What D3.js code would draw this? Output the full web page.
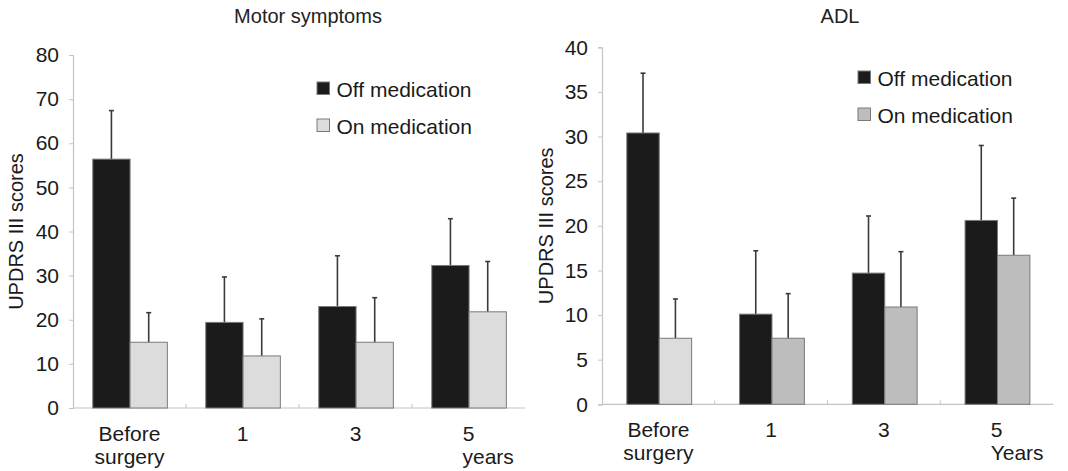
<!DOCTYPE html>
<html>
<head>
<meta charset="utf-8">
<script src="https://cdn.jsdelivr.net/npm/d3@7"></script>
<style>
  html, body { margin: 0; padding: 0; background: #fff; }
  svg { display: block; font-family: "Liberation Sans", Arial, sans-serif; }
</style>
</head>
<body>
<svg id="chart" width="1068" height="471"></svg>
<script>
// Time points after surgery
const categories = ["Before surgery", "1", "3", "5"];
const series = ["Off medication", "On medication"];

// Motor symptoms (UPDRS III), means and upper error bars
const motorOff = [56.4, 19.4, 23.0, 32.3];
const motorOffErr = [67.4, 29.7, 34.5, 42.9];
const motorOn = [14.9, 11.8, 14.9, 21.8];
const motorOnErr = [21.6, 20.2, 25.0, 33.2];
const motorTicks = [0, 10, 20, 30, 40, 50, 60, 70, 80];

// Activities of daily living
const adlOff = [30.4, 10.1, 14.7, 20.6];
const adlOffErr = [37.1, 17.2, 21.1, 29.0];
const adlOn = [7.4, 7.4, 10.9, 16.7];
const adlOnErr = [11.8, 12.4, 17.1, 23.1];
const adlTicks = [0, 5, 10, 15, 20, 25, 30, 35, 40];

const svg = d3.select("#chart");
const INK = "#1a1a1a";

function panel(opt) {
  const g = svg.append("g");
  const x0 = d3.scaleBand().domain(categories).range([opt.x0, opt.x1]).padding(0);
  const bw = x0.bandwidth();
  const x1 = d3.scaleBand().domain(series).range([bw * opt.inner[0], bw * opt.inner[1]]).padding(0);
  const y = d3.scaleLinear().domain([0, opt.max]).range([opt.yBottom, opt.yTop]);

  // panel title
  g.append("text").attr("x", opt.titleX).attr("y", 23)
    .attr("text-anchor", "middle").attr("font-size", 20).attr("fill", "#222")
    .text(opt.title);

  // y axis
  const yAxis = g.append("g").attr("transform", `translate(${opt.x0},0)`)
    .call(d3.axisLeft(y).tickValues(opt.ticks).tickSize(4).tickPadding(10));
  yAxis.select(".domain").attr("stroke", "#c4c4c4").attr("stroke-width", 1.2);
  yAxis.selectAll(".tick line").attr("stroke", "#c4c4c4");
  yAxis.selectAll(".tick text").attr("font-size", 21).attr("fill", INK)
    .attr("font-family", "Liberation Sans, Arial, sans-serif");

  // x axis baseline with short separators between groups
  g.append("line").attr("x1", opt.x0).attr("x2", opt.x1)
    .attr("y1", opt.yBottom).attr("y2", opt.yBottom)
    .attr("stroke", "#c4c4c4").attr("stroke-width", 1.2);
  categories.slice(1).forEach(c => {
    g.append("line").attr("x1", x0(c)).attr("x2", x0(c))
      .attr("y1", opt.yBottom).attr("y2", opt.yBottom - 4)
      .attr("stroke", "#c4c4c4");
  });

  // y axis title
  g.append("text")
    .attr("transform", `translate(${opt.labelX},${(opt.yTop + opt.yBottom) / 2}) rotate(-90)`)
    .attr("text-anchor", "middle").attr("font-size", 20).attr("fill", INK)
    .attr("dy", "0.35em")
    .text("UPDRS III scores");

  const rows = categories.map((c, i) => ({
    cat: c,
    vals: [
      { s: series[0], v: opt.off[i], e: opt.offErr[i], fill: "#1b1b1b" },
      { s: series[1], v: opt.on[i], e: opt.onErr[i], fill: opt.onFill[i] }
    ]
  }));

  const grp = g.selectAll(".grp").data(rows).join("g")
    .attr("transform", d => `translate(${x0(d.cat)},0)`);

  // error bars (upper whisker only)
  grp.selectAll(".err").data(d => d.vals).join("g").each(function (d) {
    const cx = x1(d.s) + x1.bandwidth() / 2;
    const s = d3.select(this);
    s.append("line").attr("x1", cx).attr("x2", cx)
      .attr("y1", y(d.v)).attr("y2", y(d.e))
      .attr("stroke", "#3a3a3a").attr("stroke-width", 1.6);
    s.append("line").attr("x1", cx - 2.5).attr("x2", cx + 2.5)
      .attr("y1", y(d.e)).attr("y2", y(d.e))
      .attr("stroke", "#3a3a3a").attr("stroke-width", 1.6);
  });

  grp.selectAll("rect").data(d => d.vals).join("rect")
    .attr("x", d => x1(d.s))
    .attr("y", d => y(d.v))
    .attr("width", x1.bandwidth())
    .attr("height", d => y(0) - y(d.v))
    .attr("fill", d => d.fill)
    .attr("stroke", "#7a7a7a").attr("stroke-width", 1);

  // category labels
  categories.forEach((c, i) => {
    const cx = x0(c) + bw / 2;
    const t = g.append("text").attr("text-anchor", "middle")
      .attr("font-size", 21).attr("fill", INK);
    if (i === 0) {
      t.append("tspan").attr("x", cx).attr("y", opt.yBottom + 33).text("Before");
      t.append("tspan").attr("x", cx).attr("y", opt.yBottom + 56).text("surgery");
    } else {
      t.attr("x", cx).attr("y", opt.yBottom + 33).text(c);
    }
  });
  g.append("text").attr("x", x0("5") + bw / 2 - 6).attr("y", opt.yBottom + 56)
    .attr("font-size", 21).attr("fill", INK).text(opt.unit);

  // legend
  const leg = g.append("g");
  series.forEach((s, i) => {
    const ly = opt.legY + i * 37;
    leg.append("rect").attr("x", opt.legX).attr("y", ly)
      .attr("width", 12.5).attr("height", 12.5)
      .attr("fill", i === 0 ? "#1b1b1b" : opt.legOnFill)
      .attr("stroke", "#7a7a7a").attr("stroke-width", 1);
    leg.append("text").attr("x", opt.legX + 19.5).attr("y", ly + 15)
      .attr("font-size", 21).attr("fill", INK).text(s);
  });
}

panel({
  title: "Motor symptoms", titleX: 308,
  x0: 73, x1: 525, yTop: 55, yBottom: 408, max: 80, ticks: motorTicks,
  inner: [0.175, 0.835], labelX: 16,
  off: motorOff, offErr: motorOffErr, on: motorOn, onErr: motorOnErr,
  onFill: ["#dcdcdc", "#dcdcdc", "#dcdcdc", "#dcdcdc"], legOnFill: "#dcdcdc",
  unit: "years", legX: 317, legY: 82
});

panel({
  title: "ADL", titleX: 840,
  x0: 602, x1: 1053, yTop: 47.3, yBottom: 404.3, max: 40, ticks: adlTicks,
  inner: [0.22, 0.795], labelX: 546,
  off: adlOff, offErr: adlOffErr, on: adlOn, onErr: adlOnErr,
  onFill: ["#dcdcdc", "#bdbdbd", "#bdbdbd", "#bdbdbd"], legOnFill: "#bdbdbd",
  unit: "Years", legX: 858, legY: 71
});
</script>
</body>
</html>
